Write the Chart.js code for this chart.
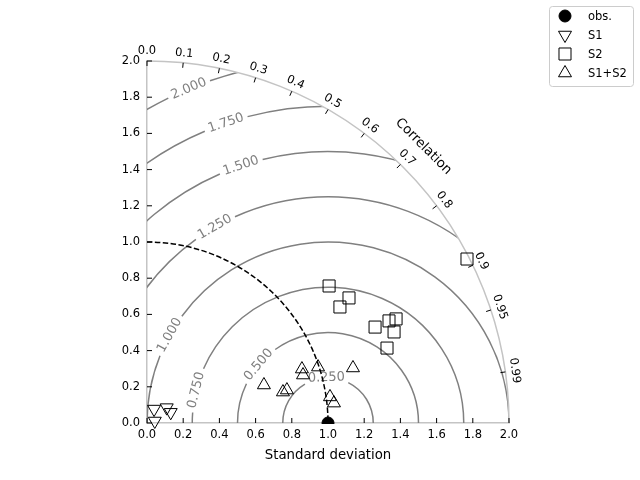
<!DOCTYPE html>
<html>
<head>
<meta charset="utf-8">
<script src="https://cdn.jsdelivr.net/npm/chart.js@4/dist/chart.umd.min.js"></script>
<style>
  html, body { margin: 0; padding: 0; background: #fff; }
</style>
</head>
<body>
<canvas id="taylor" width="640" height="480"></canvas>
<script>
// reference (observed) standard deviation
const refStd = 1.0;

// points in diagram coordinates (std*corr, std*sin(acos(corr)))
const obsX = [1.0];
const obsY = [0.0];
const s1X = [0.039, 0.109, 0.131, 0.043];
const s1Y = [0.077, 0.085, 0.059, 0.011];
const s2X = [1.006, 1.116, 1.066, 1.260, 1.337, 1.376, 1.365, 1.326, 1.768];
const s2Y = [0.757, 0.691, 0.641, 0.530, 0.564, 0.575, 0.503, 0.414, 0.906];
const s12X = [0.856, 0.862, 0.945, 1.138, 0.646, 0.751, 0.773, 1.011, 1.033];
const s12Y = [0.298, 0.265, 0.309, 0.304, 0.210, 0.171, 0.182, 0.144, 0.110];

// centred RMS contour levels and where their labels sit (degrees around the ref point)
const rmsLevels = [0.25, 0.5, 0.75, 1.0, 1.25, 1.5, 1.75, 2.0];
const rmsLabelAngles = [92, 140, 166, 151, 120, 108.7, 108.8, 112.6];

// correlation ticks on the outer arc
const corrTicks = [0.0, 0.1, 0.2, 0.3, 0.4, 0.5, 0.6, 0.7, 0.8, 0.9, 0.95, 0.99];
const maxStd = 2.0;

const toPoints = (xs, ys) => xs.map((x, i) => ({ x: x, y: ys[i] }));

const gridColor = '#808080';
const frameColor = '#c4c4c4';
const fontFamily = "'DejaVu Sans', sans-serif";

const taylorGrid = {
    id: 'taylorGrid',
    beforeDatasetsDraw(chart) {
        const { ctx, scales: { x, y } } = chart;
        const ox = x.getPixelForValue(0);
        const oy = y.getPixelForValue(0);
        const unit = x.getPixelForValue(1) - ox;
        const R = maxStd * unit;

        ctx.save();
        ctx.beginPath();
        ctx.moveTo(ox, oy);
        ctx.arc(ox, oy, R, -Math.PI / 2, 0);
        ctx.closePath();
        ctx.clip();

        // RMS contours with gaps for labels
        const cx = x.getPixelForValue(refStd);
        ctx.font = '13px ' + fontFamily;
        ctx.strokeStyle = gridColor;
        ctx.lineWidth = 1.5;
        const labels = [];
        rmsLevels.forEach((r, i) => {
            const rad = r * unit;
            const a = rmsLabelAngles[i] * Math.PI / 180;
            const text = r.toFixed(3);
            const half = (ctx.measureText(text).width + 8) / 2 / rad;
            const g = 2 * Math.PI - a;
            ctx.beginPath();
            ctx.arc(cx, oy, rad, Math.PI, g - half);
            ctx.stroke();
            ctx.beginPath();
            ctx.arc(cx, oy, rad, g + half, 2 * Math.PI);
            ctx.stroke();
            labels.push({ text, px: cx + rad * Math.cos(a), py: oy - rad * Math.sin(a), rot: (90 - rmsLabelAngles[i]) * Math.PI / 180 });
        });
        ctx.fillStyle = gridColor;
        ctx.textAlign = 'center';
        ctx.textBaseline = 'middle';
        labels.forEach(l => {
            ctx.save();
            ctx.translate(l.px, l.py);
            ctx.rotate(l.rot);
            ctx.fillText(l.text, 0, 0);
            ctx.restore();
        });

        // reference std arc
        ctx.setLineDash([5.5, 2.4]);
        ctx.strokeStyle = '#000';
        ctx.lineWidth = 1.5;
        ctx.beginPath();
        ctx.arc(ox, oy, refStd * unit, -Math.PI / 2, 0);
        ctx.stroke();
        ctx.setLineDash([]);
        ctx.restore();

        // outer arc
        ctx.save();
        ctx.strokeStyle = frameColor;
        ctx.lineWidth = 1.5;
        ctx.beginPath();
        ctx.arc(ox, oy, R, -Math.PI / 2, 0);
        ctx.stroke();

        // correlation ticks and labels
        ctx.strokeStyle = '#000';
        ctx.lineWidth = 1;
        ctx.fillStyle = '#000';
        ctx.font = '11.5px ' + fontFamily;
        ctx.textAlign = 'center';
        ctx.textBaseline = 'middle';
        corrTicks.forEach(c => {
            const t = Math.acos(c);
            const cs = Math.cos(t), sn = Math.sin(t);
            ctx.beginPath();
            ctx.moveTo(ox + R * cs, oy - R * sn);
            ctx.lineTo(ox + (R - 5) * cs, oy - (R - 5) * sn);
            ctx.stroke();
            ctx.save();
            ctx.translate(ox + (R + 9.5) * cs, oy - (R + 9.5) * sn);
            ctx.rotate(Math.PI / 2 - t);
            ctx.fillText(c === 0 ? '0.0' : String(c), 0, 0);
            ctx.restore();
        });
        ctx.save();
        ctx.font = '13.3px ' + fontFamily;
        const ca = Math.PI / 4;
        ctx.translate(ox + (R + 29) * Math.cos(ca), oy - (R + 29) * Math.sin(ca));
        ctx.rotate(ca);
        ctx.fillText('Correlation', 0, 0);
        ctx.restore();

        // inward axis ticks
        x.ticks.forEach(t => {
            const px = x.getPixelForValue(t.value);
            ctx.beginPath();
            ctx.moveTo(px, oy);
            ctx.lineTo(px, oy - 5);
            ctx.stroke();
        });
        y.ticks.forEach(t => {
            const py = y.getPixelForValue(t.value);
            ctx.beginPath();
            ctx.moveTo(ox, py);
            ctx.lineTo(ox + 5, py);
            ctx.stroke();
        });
        ctx.restore();
    },
    afterDraw(chart) {
        // legend box
        const { ctx } = chart;
        const items = chart.data.datasets;
        ctx.save();
        ctx.fillStyle = 'rgba(255,255,255,0.8)';
        ctx.strokeStyle = '#cccccc';
        ctx.lineWidth = 1;
        ctx.beginPath();
        if (ctx.roundRect) ctx.roundRect(549.5, 6.5, 84, 80, 3);
        else ctx.rect(549.5, 6.5, 84, 80);
        ctx.fill();
        ctx.stroke();
        ctx.font = '11.5px ' + fontFamily;
        ctx.textAlign = 'left';
        ctx.textBaseline = 'middle';
        items.forEach((ds, i) => {
            const yy = 16 + i * 19;
            ctx.fillStyle = ds.pointBackgroundColor;
            ctx.strokeStyle = ds.pointBorderColor;
            ctx.lineWidth = ds.pointBorderWidth;
            Chart.helpers.drawPoint(ctx, {
                pointStyle: ds.pointStyle,
                rotation: ds.pointRotation || 0,
                radius: ds.pointRadius,
                borderWidth: ds.pointBorderWidth
            }, 565, yy);
            ctx.fillStyle = '#000';
            ctx.fillText(ds.label, 588, yy + 1);
        });
        ctx.restore();
    }
};

Chart.defaults.font.family = fontFamily;
Chart.defaults.font.size = 11.5;
Chart.defaults.color = '#000';

const axisTickCb = v => Number(v).toFixed(1);
const hollow = 'rgba(0,0,0,0)';

new Chart(document.getElementById('taylor').getContext('2d'), {
    type: 'scatter',
    data: {
        datasets: [
            { label: 'obs.', data: toPoints(obsX, obsY), pointStyle: 'circle', pointRadius: 6,
              pointBackgroundColor: '#000', pointBorderColor: '#000', pointBorderWidth: 1,
              clip: { left: false, top: false, right: false, bottom: 1 } },
            { label: 'S1', data: toPoints(s1X, s1Y), pointStyle: 'triangle', pointRotation: 180, pointRadius: 7.5,
              pointBackgroundColor: hollow, pointBorderColor: '#000', pointBorderWidth: 1, clip: false },
            { label: 'S2', data: toPoints(s2X, s2Y), pointStyle: 'rect', pointRadius: 8.5,
              pointBackgroundColor: hollow, pointBorderColor: '#000', pointBorderWidth: 1, clip: false },
            { label: 'S1+S2', data: toPoints(s12X, s12Y), pointStyle: 'triangle', pointRadius: 7.5,
              pointBackgroundColor: hollow, pointBorderColor: '#000', pointBorderWidth: 1, clip: false }
        ]
    },
    options: {
        responsive: false,
        animation: false,
        layout: { padding: { left: 0, right: 131, top: 61, bottom: 0 } },
        plugins: {
            legend: { display: false },
            tooltip: { enabled: false }
        },
        scales: {
            x: {
                type: 'linear', min: 0, max: maxStd,
                ticks: { stepSize: 0.2, padding: 5, callback: axisTickCb, maxRotation: 0 },
                grid: { display: false, drawTicks: false, tickLength: 0 },
                border: { display: true, color: frameColor, width: 1.5 },
                title: { display: true, text: 'Standard deviation', font: { size: 13.3 }, padding: { top: 0, bottom: 16 } },
                afterFit: s => { s.height = 57; }
            },
            y: {
                type: 'linear', min: 0, max: maxStd,
                ticks: { stepSize: 0.2, padding: 7, callback: axisTickCb },
                grid: { display: false, drawTicks: false, tickLength: 0 },
                border: { display: true, color: frameColor, width: 1.5 },
                afterFit: s => { s.width = 147; }
            }
        }
    },
    plugins: [taylorGrid]
});
</script>
</body>
</html>
